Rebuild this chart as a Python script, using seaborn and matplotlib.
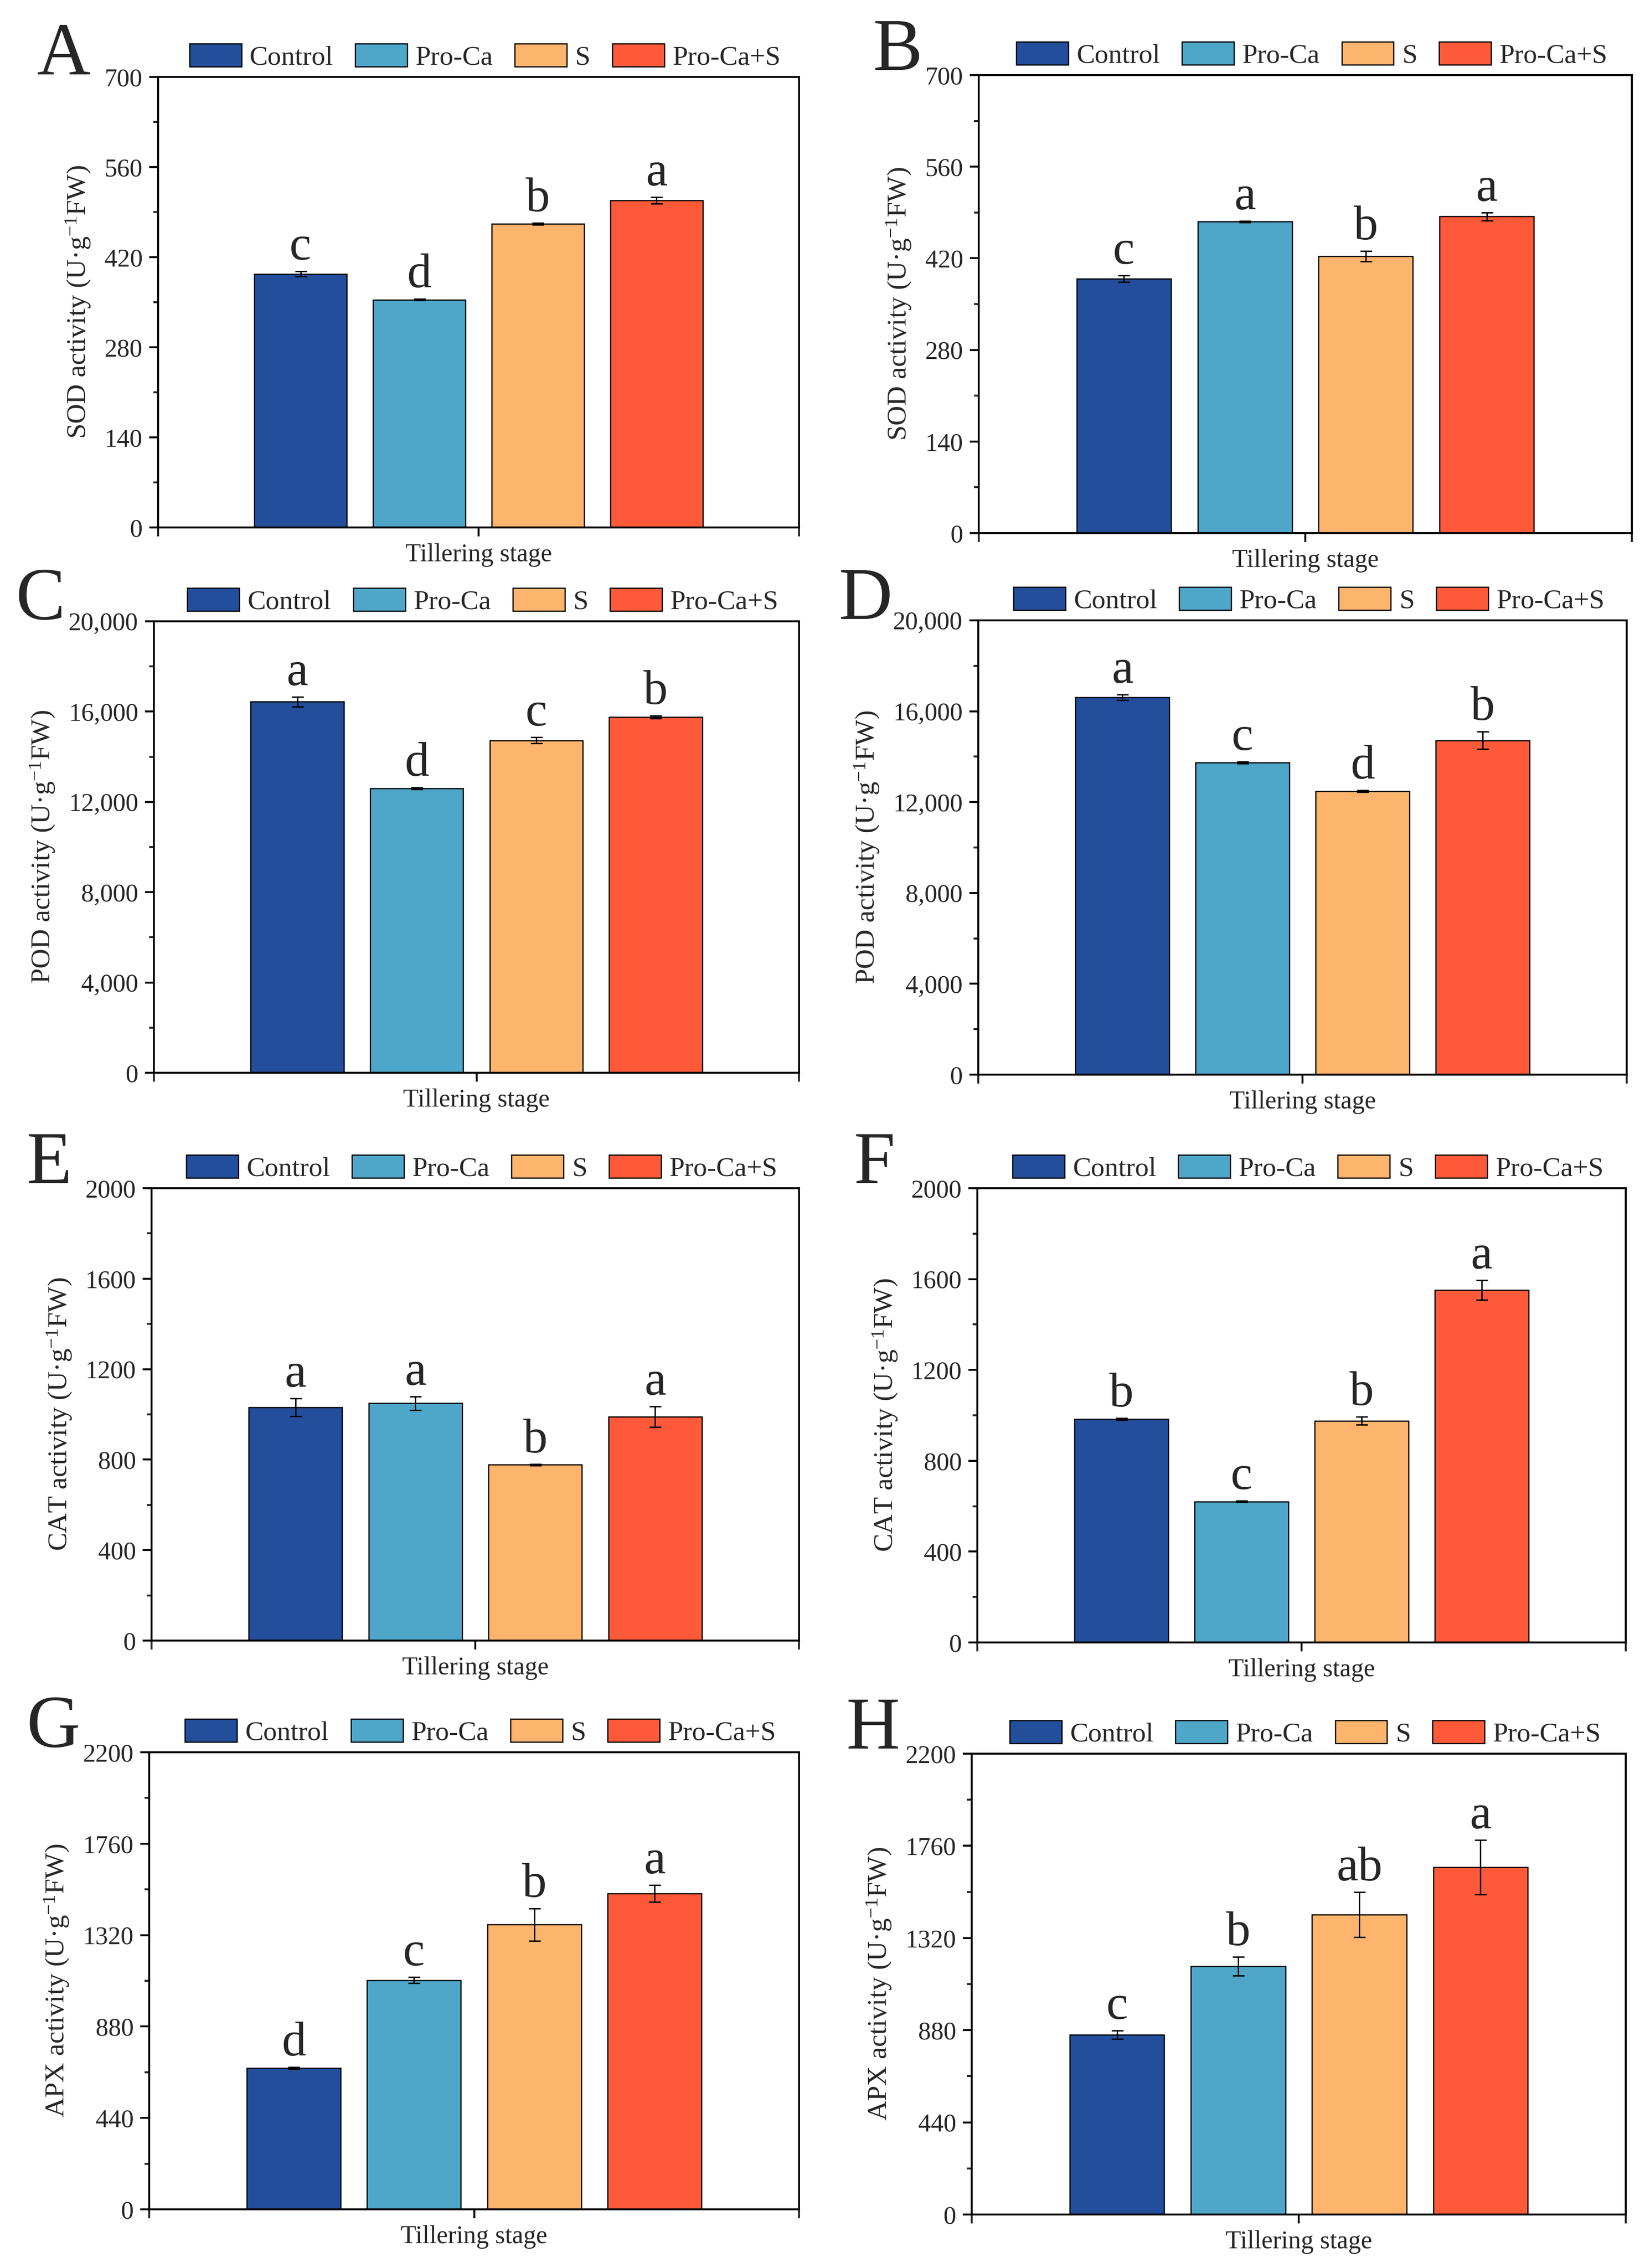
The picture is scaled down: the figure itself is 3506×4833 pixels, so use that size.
import numpy as np
import pandas as pd
import matplotlib
matplotlib.use("Agg")
import matplotlib.pyplot as plt
import seaborn as sns
from matplotlib.ticker import MultipleLocator, AutoMinorLocator, StrMethodFormatter

# data (means, error bars, significance letters)
treatments = ["Control", "Pro-Ca", "S", "Pro-Ca+S"]
colors = ["#234E9B", "#4EA6C9", "#FDB46D", "#FE5A3A"]
stage = "Tillering stage"

sod_a = [394, 354, 472, 508]
sod_a_err = [4, 1, 1.5, 5]
sod_a_let = ["c", "d", "b", "a"]

sod_b = [389, 476, 423, 484]
sod_b_err = [5, 1, 8, 6]
sod_b_let = ["c", "a", "b", "a"]

pod_c = [16435, 12600, 14725, 15765]
pod_c_err = [215, 50, 135, 60]
pod_c_let = ["a", "d", "c", "b"]

pod_d = [16615, 13735, 12480, 14720]
pod_d_err = [120, 40, 40, 380]
pod_d_let = ["a", "c", "d", "b"]

cat_e = [1031, 1049, 777, 990]
cat_e_err = [39, 30, 3, 45]
cat_e_let = ["a", "a", "b", "a"]

cat_f = [984, 620, 976, 1552]
cat_f_err = [4, 3, 17, 44]
cat_f_let = ["b", "c", "b", "a"]

apx_g = [680, 1103, 1370, 1520]
apx_g_err = [4, 15, 78, 40]
apx_g_let = ["d", "c", "b", "a"]

apx_h = [858, 1186, 1432, 1657]
apx_h_err = [20, 45, 108, 130]
apx_h_let = ["c", "b", "ab", "a"]

sns.set_theme(style="ticks")
plt.rcParams["font.family"] = ["Liberation Serif", "DejaVu Serif"]
plt.rcParams["mathtext.fontset"] = "custom"
plt.rcParams["mathtext.rm"] = "Liberation Serif"
plt.rcParams["mathtext.it"] = "Liberation Serif:italic"
plt.rcParams["axes.edgecolor"] = "black"

W, H = 3506, 4833
fig = plt.figure(figsize=(W / 300, H / 300), dpi=300)

# panel: label, enzyme, values, errors, letters, ymax, step, comma, axes box px (l,t,r,b), letter pos px
panels = [
    ("A", "SOD", sod_a, sod_a_err, sod_a_let, 700, 140, False, (337, 164, 1703, 1124), (79, 158)),
    ("B", "SOD", sod_b, sod_b_err, sod_b_let, 700, 140, False, (2086, 160, 3478, 1136), (1860, 149)),
    ("C", "POD", pod_c, pod_c_err, pod_c_let, 20000, 4000, True, (328, 1324, 1703, 2286), (34, 1319)),
    ("D", "POD", pod_d, pod_d_err, pod_d_let, 20000, 4000, True, (2085, 1322, 3467, 2290), (1787, 1319)),
    ("E", "CAT", cat_e, cat_e_err, cat_e_let, 2000, 400, False, (323, 2532, 1703, 3496), (56, 2521)),
    ("F", "CAT", cat_f, cat_f_err, cat_f_let, 2000, 400, False, (2083, 2532, 3465, 3500), (1820, 2521)),
    ("G", "APX", apx_g, apx_g_err, apx_g_let, 2200, 440, False, (318, 3734, 1703, 4708), (56, 3722)),
    ("H", "APX", apx_h, apx_h_err, apx_h_let, 2200, 440, False, (2071, 3737, 3465, 4719), (1804, 3726)),
]

for lab, enz, vals, errs, lets, ymax, step, comma, box, lpos in panels:
    l, t, r, b = box
    ax = fig.add_axes([l / W, 1 - b / H, (r - l) / W, (b - t) / H])
    df = pd.DataFrame({"stage": stage, "treatment": treatments, "value": vals})
    sns.barplot(data=df, x="stage", y="value", hue="treatment", hue_order=treatments,
                palette=colors, saturation=1, errorbar=None, width=0.8, gap=0.22,
                edgecolor="black", linewidth=0.6, legend=False, ax=ax)
    xs = [c[0].get_x() + c[0].get_width() / 2 for c in ax.containers]
    ax.errorbar(xs, vals, yerr=errs, fmt="none", ecolor="black", elinewidth=0.7,
                capsize=3, capthick=0.7, zorder=5)
    for x, v, e, s in zip(xs, vals, errs, lets):
        ax.annotate(s, (x, v + e), xytext=(0, 6), textcoords="offset points",
                    ha="center", va="baseline", fontsize=25)
    ax.set_xlim(-0.54, 0.54)
    ax.set_ylim(0, ymax)
    ax.yaxis.set_major_locator(MultipleLocator(step))
    ax.yaxis.set_minor_locator(AutoMinorLocator(2))
    if comma:
        ax.yaxis.set_major_formatter(StrMethodFormatter("{x:,.0f}"))
    ax.set_xticks([0])
    ax.set_xticklabels([stage])
    ax.set_xticks([-0.54, 0.54], minor=True)
    ax.tick_params(axis="both", which="major", direction="out", length=4.5, width=1,
                   labelsize=13, color="black", top=False, right=False)
    ax.tick_params(axis="y", which="minor", direction="out", length=2.5, width=1, right=False)
    ax.tick_params(axis="x", which="minor", direction="out", length=4.5, width=1, top=False)
    ax.set_xlabel("")
    ax.set_ylabel(enz + " activity (U·g$^{-1}$FW)", fontsize=14, labelpad=6)
    for sp in ax.spines.values():
        sp.set_linewidth(1.0)
        sp.set_color("black")
    handles = [c[0] for c in ax.containers]
    ax.legend(handles, treatments, loc="lower center", bbox_to_anchor=(0.51, 1.0),
              ncol=4, frameon=False, fontsize=14, handlelength=1.9, handleheight=0.9,
              handletextpad=0.3, columnspacing=0.8, borderpad=0.15, borderaxespad=0.1)
    fig.text(lpos[0] / W, 1 - lpos[1] / H, lab, fontsize=38, ha="left", va="baseline")

fig.savefig("out.png", dpi=300)
